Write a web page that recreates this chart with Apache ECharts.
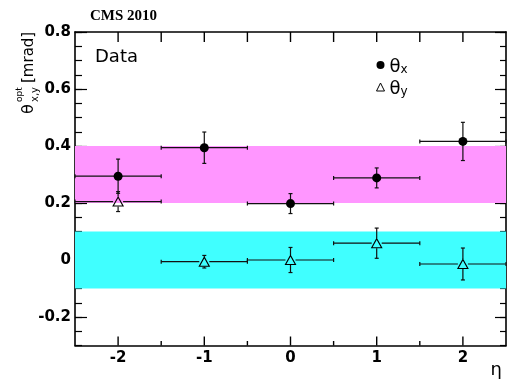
<!DOCTYPE html>
<html>
<head>
<meta charset="utf-8">
<script src="https://cdn.jsdelivr.net/npm/echarts@6/dist/echarts.min.js"></script>
<style>html,body{margin:0;padding:0;background:#fff;}#c{width:508px;height:381px;}</style>
</head>
<body>
<div id="c"></div>
<script>
// ---- data ----
const eta = [-2, -1, 0, 1, 2];
const etaHalfWidth = [0.5, 0.5, 0.5, 0.5, 0.5];
const thetaX = [0.294, 0.394, 0.198, 0.288, 0.416];
const thetaXErr = [0.060, 0.055, 0.035, 0.035, 0.067];
const thetaY = [0.205, -0.006, 0.000, 0.059, -0.014];
const thetaYErr = [0.035, 0.022, 0.044, 0.053, 0.056];
const bandThetaX = [0.2, 0.4];
const bandThetaY = [-0.1, 0.1];
const xRange = [-2.5, 2.5];
const yRange = [-0.3, 0.8];
const xMajorTicks = [-2, -1, 0, 1, 2];
const xMinorTicks = [-1.5, -0.5, 0.5, 1.5];
const xMajorRange = [-2, 2];
const yMajorRange = [-0.2, 0.8];

const chart = echarts.init(document.getElementById('c'), null, {renderer: 'canvas'});

const PL = 75, PR = 2, PT = 32, PB = 35.5;
const pxX = (508 - PL - PR) / (xRange[1] - xRange[0]);
const pxY = (381 - PT - PB) / (yRange[1] - yRange[0]);

const tickFont = {fontFamily: 'DejaVu Sans', fontWeight: 'bold', fontSize: 15, color: '#000'};
function frameLine() { return {show: true, onZero: false, lineStyle: {color: '#000', width: 1.6}}; }
function noLine() { return {show: false, onZero: false}; }
function ticks(len) { return {show: true, inside: true, length: len, lineStyle: {color: '#000', width: 1.2}}; }
function noTicks() { return {show: false}; }

function errRender(gap) {
  return function (params, api) {
    const x = api.value(0), y = api.value(1), ex = api.value(2), ey = api.value(3);
    const c = api.coord([x, y]);
    const l = api.coord([x - ex, y]);
    const r = api.coord([x + ex, y]);
    const t = api.coord([x, y + ey]);
    const b = api.coord([x, y - ey]);
    const st = {stroke: '#111', lineWidth: 1.2};
    const seg = (x1, y1, x2, y2) => ({type: 'line', shape: {x1, y1, x2, y2}, style: st});
    const ch = [
      seg(l[0], c[1], c[0] - gap, c[1]),
      seg(c[0] + gap, c[1], r[0], c[1]),
      seg(l[0], c[1] - 2, l[0], c[1] + 2),
      seg(r[0], c[1] - 2, r[0], c[1] + 2)
    ];
    if (t[1] < c[1] - gap) ch.push(seg(c[0], c[1] - gap, c[0], t[1]), seg(c[0] - 2, t[1], c[0] + 2, t[1]));
    if (b[1] > c[1] + gap) ch.push(seg(c[0], c[1] + gap, c[0], b[1]), seg(c[0] - 2, b[1], c[0] + 2, b[1]));
    return {type: 'group', children: ch};
  };
}

// eta-axis tick marks drawn as thin rectangles, placed through the x scale
function tickRender(bottomLen, topLen) {
  return function (params, api) {
    const v = api.value(0);
    const b = api.coord([v, yRange[0]]);
    const t = api.coord([v, yRange[1]]);
    return {type: 'group', children: [
      {type: 'rect', shape: {x: b[0] - 0.7, y: b[1] - bottomLen, width: 1.4, height: bottomLen}, style: {fill: '#000'}},
      {type: 'rect', shape: {x: t[0] - 0.7, y: t[1], width: 1.4, height: topLen}, style: {fill: '#000'}}
    ]};
  };
}

const option = {
  animation: false,
  backgroundColor: '#fff',
  grid: [
    {left: PL, right: PR, top: PT, bottom: PB},
    {left: PL + (xMajorRange[0] - xRange[0]) * pxX, right: PR + (xRange[1] - xMajorRange[1]) * pxX, top: PT, bottom: PB},
    {left: PL, right: PR, top: PT + (yRange[1] - yMajorRange[1]) * pxY, bottom: PB + (yMajorRange[0] - yRange[0]) * pxY}
  ],
  xAxis: [
    {gridIndex: 0, type: 'value', position: 'bottom', min: xRange[0], max: xRange[1],
      axisLine: frameLine(), axisTick: noTicks(), axisLabel: {show: false}, splitLine: {show: false}},
    {gridIndex: 0, type: 'value', position: 'top', min: xRange[0], max: xRange[1],
      axisLine: frameLine(), axisTick: noTicks(), axisLabel: {show: false}, splitLine: {show: false}},
    {gridIndex: 1, type: 'value', position: 'bottom', min: xMajorRange[0], max: xMajorRange[1], interval: 1,
      axisLine: noLine(), axisTick: noTicks(),
      axisLabel: Object.assign({show: true, margin: 5, formatter: v => String(v)}, tickFont), splitLine: {show: false}},
    {gridIndex: 2, type: 'value', position: 'bottom', min: xRange[0], max: xRange[1], show: false, axisLine: noLine()}
  ],
  yAxis: [
    {gridIndex: 0, type: 'value', position: 'left', min: yRange[0], max: yRange[1], interval: 0.05,
      axisLine: frameLine(), axisTick: ticks(7), axisLabel: {show: false}, splitLine: {show: false}},
    {gridIndex: 0, type: 'value', position: 'right', min: yRange[0], max: yRange[1], interval: 0.05,
      axisLine: frameLine(), axisTick: ticks(6), axisLabel: {show: false}, splitLine: {show: false}},
    {gridIndex: 1, type: 'value', min: yRange[0], max: yRange[1], show: false, axisLine: noLine()},
    {gridIndex: 2, type: 'value', position: 'left', min: yMajorRange[0], max: yMajorRange[1], interval: 0.2,
      axisLine: noLine(), axisTick: ticks(12),
      axisLabel: Object.assign({show: true, margin: 4, formatter: v => (Math.abs(v) < 1e-9 ? '0' : v.toFixed(1))}, tickFont), splitLine: {show: false}},
    {gridIndex: 2, type: 'value', position: 'right', min: yMajorRange[0], max: yMajorRange[1], interval: 0.2,
      axisLine: noLine(), axisTick: ticks(11), axisLabel: {show: false}, splitLine: {show: false}}
  ],
  legend: {
    orient: 'vertical', left: 371, top: 53, itemWidth: 8, itemHeight: 8, itemGap: 4,
    formatter: name => '{t|θ}{s|' + name.slice(1) + '}',
    textStyle: {rich: {
      t: {fontFamily: 'DejaVu Sans', fontSize: 18, color: '#000', lineHeight: 22, verticalAlign: 'bottom'},
      s: {fontFamily: 'DejaVu Sans', fontSize: 12, color: '#000', lineHeight: 11, verticalAlign: 'bottom'}
    }},
    data: [
      {name: 'θx', icon: 'circle', itemStyle: {color: '#000', opacity: 1}},
      {name: 'θy', icon: 'triangle', itemStyle: {color: 'rgba(0,0,0,0)', borderColor: '#000', borderWidth: 1, opacity: 1}}
    ]
  },
  series: [
    {type: 'line', xAxisIndex: 0, yAxisIndex: 0, data: [], silent: true, z: 1,
      markArea: {silent: true, itemStyle: {opacity: 1}, data: [
        [{yAxis: bandThetaX[0], itemStyle: {color: 'rgb(255,150,255)'}}, {yAxis: bandThetaX[1]}],
        [{yAxis: bandThetaY[0], itemStyle: {color: 'rgb(64,255,255)'}}, {yAxis: bandThetaY[1]}]
      ]}},
    {type: 'custom', xAxisIndex: 0, yAxisIndex: 0, z: 6, silent: true, clip: false,
      encode: {x: 0, y: 1},
      renderItem: tickRender(9, 10), data: xMajorTicks.map(v => [v, 0.3])},
    {type: 'custom', xAxisIndex: 0, yAxisIndex: 0, z: 6, silent: true, clip: false,
      encode: {x: 0, y: 1},
      renderItem: tickRender(4.5, 10), data: xMinorTicks.map(v => [v, 0.3])},
    {type: 'custom', xAxisIndex: 0, yAxisIndex: 0, z: 3, silent: true,
      renderItem: errRender(0),
      data: eta.map((e, i) => [e, thetaX[i], etaHalfWidth[i], thetaXErr[i]])},
    {type: 'custom', xAxisIndex: 0, yAxisIndex: 0, z: 3, silent: true,
      renderItem: errRender(5),
      data: eta.map((e, i) => [e, thetaY[i], etaHalfWidth[i], thetaYErr[i]])},
    {name: 'θx', type: 'scatter', xAxisIndex: 0, yAxisIndex: 0, z: 4, symbol: 'circle', symbolSize: 9,
      itemStyle: {color: '#000', opacity: 1}, data: eta.map((e, i) => [e, thetaX[i]])},
    {name: 'θy', type: 'scatter', xAxisIndex: 0, yAxisIndex: 0, z: 4, symbol: 'triangle', symbolSize: [10, 9],
      itemStyle: {color: 'rgba(0,0,0,0)', borderColor: '#000', borderWidth: 1.1, opacity: 1}, data: eta.map((e, i) => [e, thetaY[i]])}
  ],
  graphic: [
    {type: 'text', left: 90, top: 9, style: {text: 'CMS 2010', font: 'bold 15px "Liberation Serif"', fill: '#000'}},
    {type: 'text', left: 95, top: 48, style: {text: 'Data', font: '18px "DejaVu Sans"', fill: '#000'}},
    {type: 'text', right: 6, top: 361, style: {text: 'η', font: '18px "DejaVu Sans"', fill: '#000'}},
    {type: 'group', x: 33, y: 115, rotation: Math.PI / 2, children: [
      {type: 'text', x: 1, y: 4, style: {text: 'θ', font: '16px "DejaVu Sans"', fill: '#000', verticalAlign: 'bottom'}},
      {type: 'text', x: 13, y: -9, style: {text: 'opt', font: '9px "DejaVu Sans"', fill: '#000', verticalAlign: 'bottom'}},
      {type: 'text', x: 13, y: 7, style: {text: 'x,y', font: '10px "DejaVu Sans"', fill: '#000', verticalAlign: 'bottom'}},
      {type: 'text', x: 32, y: 4, style: {text: '[mrad]', font: '15px "DejaVu Sans"', fill: '#000', verticalAlign: 'bottom'}}
    ]}
  ]
};
chart.setOption(option);
</script>
</body>
</html>
